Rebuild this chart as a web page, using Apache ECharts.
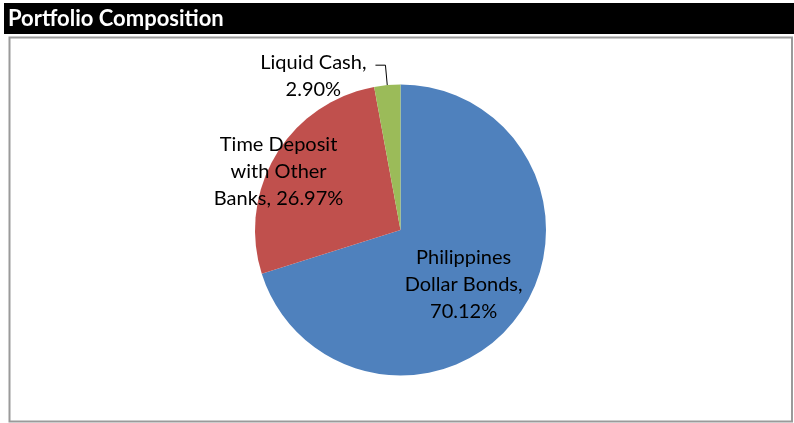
<!DOCTYPE html>
<html>
<head>
<meta charset="utf-8">
<script src="https://cdn.jsdelivr.net/npm/echarts@6/dist/echarts.min.js"></script>
<style>
html,body{margin:0;padding:0;background:#fff;}
#chart{width:794px;height:423px;}
</style>
</head>
<body>
<div id="chart"></div>
<script>
var titleText = 'Portfolio Composition';
var categories = ['Philippines Dollar Bonds', 'Time Deposit with Other Banks', 'Liquid Cash'];
var labelNames = ['Philippines\nDollar Bonds,\n', 'Time Deposit\nwith Other\nBanks, ', 'Liquid Cash,\n'];
var values = [70.12, 26.97, 2.90];
var colors = ['#4F81BD', '#C0504D', '#9BBB59'];

var FONT = 'Lato';
var chart = echarts.init(document.getElementById('chart'), null, {renderer: 'canvas'});

var data = categories.map(function (c, i) {
  var item = {name: c, value: values[i], itemStyle: {color: colors[i]}};
  if (i === 2) {
    item.label = {position: 'outside', distanceToLabelLine: 9};
    item.labelLine = {show: true, length: 20, length2: 10, lineStyle: {color: '#000', width: 1}};
  }
  return item;
});

var layoutShift = [{dx: 2, dy: 10}, {dx: -57, dy: -19.5}, {}];

chart.setOption({
  animation: false,
  backgroundColor: '#fff',
  title: {
    text: titleText,
    left: 8, top: 6,
    padding: 0,
    textStyle: {color: '#fff', fontFamily: FONT, fontWeight: 'bold', fontSize: 22, lineHeight: 26}
  },
  graphic: [
    {type: 'rect', z: -1, shape: {x: 4, y: 3, width: 790, height: 31}, style: {fill: '#000'}},
    {type: 'rect', z: -1, shape: {x: 9.5, y: 37.5, width: 782.5, height: 384}, style: {fill: '#fff', stroke: '#9a9a9a', lineWidth: 2}}
  ],
  series: [{
    type: 'pie',
    center: [400.5, 230],
    radius: [0, 145.5],
    startAngle: 90,
    clockwise: true,
    avoidLabelOverlap: false,
    silent: true,
    itemStyle: {borderWidth: 0},
    emphasis: {disabled: true, scale: false},
    label: {
      show: true,
      position: 'inside',
      color: '#000',
      fontFamily: FONT,
      fontSize: 20,
      lineHeight: 27,
      align: 'center',
      rich: {
        p: {fontSize: 10, lineHeight: 21, align: 'center'},
        t: {fontFamily: FONT, fontSize: 20, lineHeight: 27, color: '#000', align: 'center'}
      },
      formatter: function (p) {
        var txt = labelNames[p.dataIndex] + p.value.toFixed(2) + '%';
        if (p.dataIndex === 2) {
          return '{p| }\n' + txt.split('\n').map(function (s) { return '{t|' + s + '}'; }).join('\n');
        }
        return txt;
      }
    },
    labelLine: {show: false},
    labelLayout: function (p) {
      return layoutShift[p.dataIndex];
    },
    data: data
  }]
});
</script>
</body>
</html>
